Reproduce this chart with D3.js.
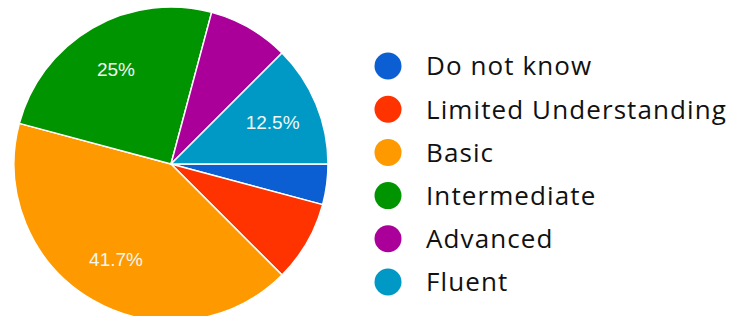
<!DOCTYPE html>
<html>
<head>
<meta charset="utf-8">
<script src="https://cdn.jsdelivr.net/npm/d3@7"></script>
<style>
  html, body { margin: 0; padding: 0; background: #fff; }
  svg { display: block; }
</style>
</head>
<body>
<svg id="chart" width="731" height="316"></svg>
<script>
const categories = ["Do not know", "Limited Understanding", "Basic", "Intermediate", "Advanced", "Fluent"];
const values = [1, 2, 10, 6, 2, 3];
const colors = ["#0b5fd3", "#ff3300", "#ff9900", "#009500", "#aa0099", "#0099c6"];
const labelTexts = ["", "", "41.7%", "25%", "", "12.5%"];

const svg = d3.select("#chart");
const cx = 171, cy = 164, R = 157;

const data = categories.map((c, i) => ({ cat: c, value: values[i], color: colors[i], label: labelTexts[i] }));

const pie = d3.pie()
  .value(d => d.value)
  .sort(null)
  .startAngle(Math.PI / 2)
  .endAngle(Math.PI / 2 + 2 * Math.PI);

const arc = d3.arc().innerRadius(0).outerRadius(R);
const labelArc = d3.arc().innerRadius(110).outerRadius(110);

const g = svg.append("g").attr("transform", `translate(${cx},${cy})`);
const arcs = pie(data);

g.selectAll("path")
  .data(arcs)
  .join("path")
  .attr("d", arc)
  .attr("fill", d => d.data.color)
  .attr("stroke", "#ffffff")
  .attr("stroke-width", 1.5)
  .attr("stroke-linejoin", "round");

g.selectAll("text.lbl")
  .data(arcs.filter(d => d.data.label))
  .join("text")
  .attr("class", "lbl")
  .attr("transform", d => `translate(${labelArc.centroid(d)})`)
  .attr("text-anchor", "middle")
  .attr("dy", "0.36em")
  .attr("fill", "#f2f7f2")
  .style("font-family", "'Liberation Sans', Arial, sans-serif")
  .style("font-size", "19px")
  .text(d => d.data.label);

// Legend
const legendY = d3.scalePoint().domain(categories).range([66, 282]);
const legend = svg.append("g");
const item = legend.selectAll("g")
  .data(data)
  .join("g")
  .attr("transform", d => `translate(0,${legendY(d.cat)})`);

item.append("circle")
  .attr("cx", 388)
  .attr("cy", 0)
  .attr("r", 13.5)
  .attr("fill", d => d.color);

item.append("text")
  .attr("x", 426)
  .attr("y", 0)
  .attr("dy", "0.36em")
  .attr("fill", "#111")
  .style("font-family", "'Open Sans', sans-serif")
  .style("font-size", "26px")
  .style("letter-spacing", "1.1px")
  .text(d => d.cat);
</script>
</body>
</html>
